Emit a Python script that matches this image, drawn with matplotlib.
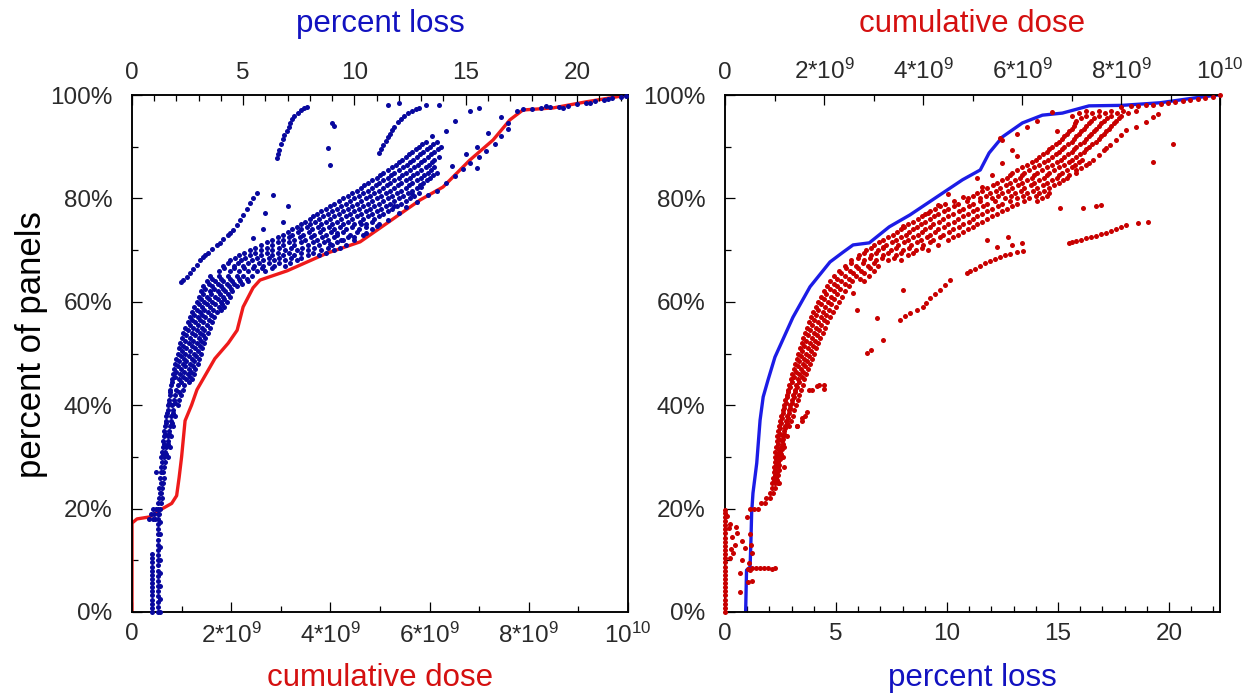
import matplotlib.pyplot as plt
import matplotlib as mpl
from matplotlib.ticker import MultipleLocator

mpl.rcParams['font.family'] = 'Liberation Sans'
mpl.rcParams['mathtext.fontset'] = 'custom'
mpl.rcParams['mathtext.rm'] = 'Liberation Sans'
mpl.rcParams['mathtext.default'] = 'regular'

# ---------------- data ----------------
# cumulative dose in units of 1e9, percent of panels
dose_cdf_dose = [0, 0, 0.1, 0.36, 0.56, 0.8, 0.9, 0.95, 1.0, 1.07, 1.2, 1.31, 1.43,
                 1.67, 1.94, 2.12, 2.24, 2.44, 2.58, 3.13, 3.93, 4.6, 5.14, 5.81,
                 6.27, 6.81, 7.28, 7.62, 7.88, 8.49, 9.17, 10.0]
dose_cdf_pct = [0, 17.2, 18.0, 18.4, 19.7, 21, 22.5, 26, 30, 37, 40, 43, 45,
                49, 52, 54.5, 59, 62.7, 64.2, 66, 69.4, 71.6, 75.2, 79.7,
                82.2, 87.4, 91.3, 95.2, 97.1, 97.5, 98.7, 100]

# percent loss, percent of panels
loss_cdf_loss = [0.93, 0.97, 1.13, 1.17, 1.2, 1.26, 1.43, 1.58, 1.72, 1.94, 2.25, 3.06,
                 3.83, 4.73, 5.32, 5.77, 6.5, 7.4, 8.33, 9.55, 10.7, 11.5, 11.9, 12.5,
                 13.4, 14.3, 15.2, 16.4, 17.9, 19.6, 21.1, 22.2]
loss_cdf_pct = [0, 8.1, 8.7, 14, 19.1, 23, 28.8, 37.1, 41.6, 44.9, 49.3, 57,
                62.9, 67.7, 69.6, 71, 71.4, 74.5, 76.8, 80.3, 83.6, 85.5, 88.8, 91.9,
                94.6, 96.1, 96.5, 97.9, 98, 98.5, 99.4, 100]

# ---- left panel: percent loss of each panel (x) vs its dose rank (y) ----
loss_columns = [
    (0.9, [0, 0.8, 1.6, 2.4, 3.2, 4.0, 4.8, 5.6, 6.4, 7.2, 8.0, 8.8, 9.6, 10.4, 11.2]),
    (1.15, [0, 1, 2, 3, 4, 5, 6, 7, 8, 9, 10, 11, 12, 13, 14, 15, 16, 17, 18, 19, 20]),
    (1.27, [0, 2.5, 5, 7.5, 10, 12.5, 15, 17.5]),
]
loss_band_rows = [
    (18, [0.75, 0.95, 1.05]), (19, [0.85, 1.0, 1.2]), (20, [0.95, 1.1, 1.25]),
    (21, [1.15, 1.3]), (22, [1.2, 1.35]), (23, [1.25, 1.3]), (24, [1.2, 1.35]),
    (25, [1.3, 1.4]), (26, [1.25, 1.45]), (27, [1.1, 1.3, 1.4]), (28, [1.3, 1.45]),
    (29, [1.35, 1.5]), (30, [1.3, 1.45, 1.6]), (31, [1.35, 1.5]), (32, [1.4, 1.55, 1.7]),
    (33, [1.4, 1.6]), (34, [1.45, 1.6, 1.75]), (35, [1.45, 1.65]),
    (36, [1.5, 1.7, 1.85]), (37, [1.55, 1.75]), (38, [1.55, 1.75, 1.95]),
    (39, [1.6, 1.85]), (40, [1.6, 1.8, 2.05]), (41, [1.65, 1.9, 2.1]),
    (42, [1.7, 1.95, 2.2]), (43, [1.7, 2.0, 2.3]), (44, [1.75, 2.05, 2.35]),
    (45, [1.8, 2.1, 2.45, 2.7]), (46, [1.85, 2.15, 2.5, 2.8]), (47, [1.9, 2.2, 2.55, 2.85]),
    (48, [1.95, 2.3, 2.6, 2.95]), (49, [2.0, 2.35, 2.7, 3.0]), (50, [2.05, 2.4, 2.8, 3.1]),
    (51, [2.1, 2.45, 2.85, 3.15]), (52, [2.15, 2.55, 2.9, 3.25]), (53, [2.25, 2.6, 3.0, 3.3]),
    (54, [2.3, 2.7, 3.05, 3.4]), (55, [2.4, 2.75, 3.15, 3.5]), (56, [2.5, 2.85, 3.2, 3.6]),
    (57, [2.6, 2.95, 3.3, 3.7]), (58, [2.7, 3.05, 3.4, 3.8]),
    (59, [2.8, 3.15, 3.5, 3.9, 4.15]), (60, [2.9, 3.25, 3.6, 4.0, 4.25]),
    (61, [3.0, 3.35, 3.75, 4.1, 4.4]), (62, [3.1, 3.5, 3.85, 4.2, 4.5]),
    (63, [3.2, 3.6, 4.0, 4.35, 4.7]), (64, [3.35, 3.75, 4.1, 4.5, 4.85, 5.2]),
    (65, [3.5, 3.9, 4.3, 4.7, 5.0, 5.4]),
]
loss_band_half_rows = [
    (30.5, [1.38, 1.52]), (32.5, [1.45, 1.62]), (34.5, [1.5, 1.68]), (36.5, [1.52, 1.8]),
    (38.5, [1.58, 1.85]), (40.5, [1.65, 1.95]), (42.5, [1.72, 2.1]),
    (44.5, [1.78, 2.2, 2.55]), (45.5, [1.95, 2.3, 2.6]), (46.5, [2.0, 2.35, 2.65]),
    (47.5, [2.05, 2.4, 2.75]), (48.5, [2.12, 2.45, 2.8]), (49.5, [2.2, 2.55, 2.88]),
    (50.5, [2.25, 2.62, 2.95]), (51.5, [2.3, 2.7, 3.05]), (52.5, [2.38, 2.75, 3.1]),
    (53.5, [2.45, 2.82, 3.2]), (54.5, [2.52, 2.9, 3.25]), (55.5, [2.6, 2.98, 3.35]),
    (56.5, [2.7, 3.05, 3.45]), (57.5, [2.8, 3.15, 3.55]), (58.5, [2.9, 3.25, 3.65, 3.98]),
    (59.5, [3.0, 3.38, 3.75, 4.05]), (60.5, [3.1, 3.45, 3.85, 4.15]),
    (61.5, [3.2, 3.55, 3.95, 4.3]), (62.5, [3.3, 3.7, 4.1, 4.45]),
    (63.5, [3.45, 3.85, 4.25, 4.6, 4.95]), (64.5, [3.6, 4.0, 4.4, 4.8, 5.15]),
]
loss_cloud_rows = [
    (66, [3.9, 4.4, 4.8, 5.2, 5.6, 6.0]),
    (67, [4.1, 4.6, 5.0, 5.5, 5.9, 6.4, 6.9]),
    (68, [4.4, 4.9, 5.4, 5.9, 6.4, 6.9, 7.4]),
    (69, [4.8, 5.3, 5.8, 6.3, 6.8, 7.3, 7.9, 8.4]),
    (70, [5.3, 5.8, 6.3, 6.9, 7.4, 7.9, 8.5, 9.1]),
    (71, [5.8, 6.3, 6.8, 7.3, 7.9, 8.4, 9.0, 9.6]),
    (72, [6.3, 6.8, 7.3, 7.8, 8.3, 8.8, 9.4, 10.0]),
    (73, [6.8, 7.2, 7.7, 8.2, 8.7, 9.2, 9.8, 10.4]),
    (74, [7.2, 7.6, 8.1, 8.6, 9.1, 9.6, 10.2, 10.8]),
    (75, [7.6, 8.0, 8.5, 9.0, 9.5, 10.0, 10.5, 11.1]),
    (76, [8.0, 8.4, 8.9, 9.4, 9.9, 10.4, 10.9]),
    (77, [8.3, 8.8, 9.3, 9.8, 10.3, 10.8, 11.3]),
    (78, [8.7, 9.2, 9.7, 10.2, 10.7, 11.2, 11.7]),
    (79, [9.1, 9.6, 10.1, 10.6, 11.1, 11.6, 12.1]),
    (80, [9.5, 10.0, 10.5, 11.0, 11.5, 12.0, 12.5]),
    (81, [9.9, 10.4, 10.9, 11.4, 11.9, 12.4, 12.9]),
    (82, [10.3, 10.8, 11.3, 11.8, 12.3, 12.8]),
    (83, [10.6, 11.1, 11.6, 12.1, 12.6, 13.1]),
    (84, [11.0, 11.5, 12.0, 12.5, 13.0, 13.4]),
    (85, [11.3, 11.8, 12.3, 12.8, 13.3, 13.7]),
    (86, [11.7, 12.2, 12.7, 13.2, 13.6]),
    (87, [12.0, 12.5, 13.0, 13.5]),
    (88, [12.3, 12.8, 13.3, 13.8]),
    (89, [12.6, 13.1, 13.6]),
    (90, [12.9, 13.4, 13.9]),
    (91, [13.2, 13.7]),
    (92, [13.5]),
]
loss_cloud_half_rows = [
    (66.5, [4.15, 4.6, 5.05, 5.45, 5.85, 6.3]),
    (67.5, [4.3, 4.75, 5.2, 5.7, 6.15, 6.6, 7.1]),
    (68.5, [4.65, 5.1, 5.6, 6.15, 6.6, 7.15, 7.6]),
    (69.5, [5.05, 5.55, 6.05, 6.55, 7.05, 7.6, 8.15, 8.7]),
    (70.5, [5.55, 6.05, 6.6, 7.15, 7.65, 8.2, 8.8, 9.35]),
    (71.5, [6.05, 6.55, 7.05, 7.6, 8.15, 8.65, 9.2]),
    (72.5, [6.55, 7.05, 7.55, 8.05, 8.55, 9.1, 9.7]),
    (73.5, [7.0, 7.45, 7.95, 8.45, 8.95, 9.5, 10.1]),
    (74.5, [7.4, 7.85, 8.35, 8.85, 9.35, 9.9, 10.5]),
    (75.5, [7.8, 8.25, 8.7, 9.2, 9.7, 10.25, 10.8]),
    (76.5, [8.15, 8.6, 9.1, 9.6, 10.1, 10.6, 11.1]),
    (77.5, [8.5, 9.0, 9.5, 10.0, 10.5, 11.0, 11.5]),
    (78.5, [8.9, 9.4, 9.9, 10.4, 10.9, 11.4, 11.9]),
    (79.5, [9.3, 9.8, 10.3, 10.8, 11.3, 11.8, 12.3]),
    (80.5, [9.7, 10.2, 10.7, 11.2, 11.7, 12.2, 12.7]),
    (81.5, [10.1, 10.6, 11.1, 11.6, 12.1, 12.6]),
    (82.5, [10.45, 10.95, 11.45, 11.95, 12.45, 12.95]),
    (83.5, [10.8, 11.3, 11.8, 12.3, 12.8, 13.25]),
    (84.5, [11.15, 11.65, 12.15, 12.65, 13.15, 13.55]),
    (85.5, [11.5, 12.0, 12.5, 13.0, 13.45]),
    (86.5, [11.85, 12.35, 12.85, 13.35]),
    (87.5, [12.15, 12.65, 13.15, 13.6]),
    (88.5, [12.45, 12.95, 13.45]),
    (89.5, [12.75, 13.25, 13.75]),
    (90.5, [13.05, 13.55]),
]
loss_edge = [(8.9, 71.2), (9.5, 72.0), (10.0, 72.6), (10.5, 73.3), (11.0, 74.6), (11.5, 75.8),
             (12.0, 77.2), (12.3, 78.3), (12.8, 79.4), (13.3, 80.6), (13.7, 81.5), (14.1, 83.0),
             (14.5, 84.4), (14.9, 85.6), (15.2, 86.8), (15.6, 88.0), (15.9, 89.2), (16.3, 90.6),
             (16.6, 92.0), (16.9, 93.4), (15.0, 88.6), (13.0, 82.3), (11.8, 78.5), (10.3, 75.0),
             (9.2, 73.3), (12.6, 80.8), (14.4, 86.2), (15.5, 90.0)]
loss_arc = [(2.2, 63.8), (2.3, 64.3), (2.46, 64.8), (2.6, 65.6), (2.75, 66.4), (2.9, 67.2),
            (3.05, 68.0), (3.2, 68.6), (3.3, 69.0), (3.4, 69.4), (3.6, 70.2), (3.8, 70.9),
            (3.95, 71.4), (4.1, 72.1), (4.3, 72.9), (4.4, 73.4), (4.55, 73.9), (4.7, 74.8),
            (4.85, 75.8), (5.0, 76.8), (5.15, 78.0), (5.3, 79.2), (5.45, 80.1), (5.6, 81.0)]
loss_streaks = [(6.5, 87.8), (6.55, 88.6), (6.6, 89.4), (6.7, 90.5), (6.8, 91.5), (6.85, 92.2),
                (6.95, 93.0), (7.05, 93.8), (7.1, 94.5), (7.2, 95.3), (7.3, 95.9), (7.45, 96.6),
                (7.6, 97.1), (7.75, 97.5), (7.85, 97.7),
                (11.1, 88.8), (11.2, 89.6), (11.3, 90.3), (11.4, 91.1), (11.5, 91.8), (11.6, 92.5),
                (11.7, 93.2), (11.8, 93.9), (11.95, 94.7), (12.1, 95.4), (12.25, 96.0),
                (12.4, 96.5), (12.6, 97.0), (12.75, 97.3), (12.9, 97.5)]
loss_outliers = [(8.8, 89.7), (8.9, 86.5), (9.0, 94.6), (9.1, 94.0), (11.5, 98.0), (12.0, 98.5),
                 (13.8, 98.0), (15.2, 97.0), (15.6, 97.5), (16.9, 94.6), (16.0, 92.6), (15.5, 85.9),
                 (6.35, 80.6), (7.0, 78.5), (6.0, 77.2), (6.8, 75.4), (5.45, 72.3), (5.9, 74.0),
                 (13.2, 98.0), (14.5, 95.0), (14.1, 93.0), (16.6, 95.7)]
loss_top = [(17.3, 97.0), (17.6, 97.2), (18.0, 97.3), (18.4, 97.4), (18.8, 97.6), (19.2, 97.7),
            (19.6, 97.9), (20.0, 98.2), (20.4, 98.5), (20.8, 98.8), (21.2, 99.1), (21.6, 99.4),
            (22.0, 99.7), (22.2, 99.9), (18.6, 97.8), (19.4, 97.5), (20.6, 98.4), (21.4, 99.3)]

# ---- right panel: dose of each panel (x, 1e9) vs its loss rank (y) ----
dose_columns = [
    (0.0, [0, 0.8, 1.6, 2.4, 3.2, 4.0, 4.8, 5.6, 6.4, 7.2, 8.0, 8.8, 9.6, 10.4, 11.2, 12.0,
           12.8, 13.6, 14.4, 15.2, 16.0, 16.8, 17.6, 18.4, 19.2, 19.8]),
]
dose_low = [(0.14, 14.5), (0.24, 15.3), (0.17, 11.4), (0.34, 10.0), (0.44, 18.4), (0.5, 15.0),
            (0.54, 11.4), (0.3, 7.5), (0.3, 3.9), (0.46, 5.8), (0.1, 17.0), (0.2, 13.0),
            (0.12, 12.2), (0.08, 16.2), (0.35, 13.8), (0.52, 13.0), (0.48, 9.5), (0.4, 12.4),
            (0.22, 16.5), (0.1, 10.5), (0.55, 5.9), (0.05, 18.5),
            (0.46, 8.4), (0.55, 8.6), (0.62, 8.5), (0.7, 8.6), (0.78, 8.5), (0.86, 8.5),
            (0.94, 8.4), (1.0, 8.5), (0.5, 8.2)]
dose_band_rows = [
    (20, [0.5, 0.58, 0.66]), (21, [0.72, 0.8]), (22, [0.82, 0.9]), (23, [0.9, 0.97]),
    (24, [0.94, 1.0]), (25, [0.95, 1.02, 1.1]), (26, [0.96, 1.04]), (27, [0.98, 1.06]),
    (28, [0.98, 1.07, 1.2]), (29, [1.0, 1.08]), (30, [1.0, 1.1, 1.17]), (31, [1.02, 1.12]),
    (32, [1.03, 1.13, 1.2]), (33, [1.05, 1.15]), (34, [1.06, 1.17, 1.25]), (35, [1.08, 1.19]),
    (36, [1.1, 1.21, 1.3, 1.45]), (37, [1.12, 1.24, 1.34, 1.55]), (38, [1.14, 1.26, 1.37, 1.62]),
    (39, [1.17, 1.29, 1.4]), (40, [1.2, 1.32, 1.43]), (41, [1.22, 1.35, 1.47]),
    (42, [1.25, 1.38, 1.5]), (43, [1.28, 1.41, 1.53, 1.75]), (44, [1.3, 1.44, 1.57, 1.9, 2.0]),
    (45, [1.33, 1.47, 1.6]), (46, [1.36, 1.5, 1.64]), (47, [1.39, 1.53, 1.68]),
    (48, [1.42, 1.57, 1.72]), (49, [1.45, 1.6, 1.76]), (50, [1.48, 1.64, 1.8]),
    (51, [1.51, 1.68, 1.84]), (52, [1.55, 1.72, 1.88]), (53, [1.58, 1.76, 1.92]),
    (54, [1.62, 1.8, 1.97]), (55, [1.66, 1.84, 2.02]), (56, [1.7, 1.88, 2.07]),
    (57, [1.74, 1.93, 2.12]), (58, [1.78, 1.98, 2.18]), (59, [1.83, 2.03, 2.24]),
    (60, [1.88, 2.08, 2.3]), (61, [1.94, 2.14, 2.36]), (62, [2.0, 2.2, 2.42]),
    (63, [2.06, 2.27, 2.5]), (64, [2.13, 2.34, 2.57, 2.8]), (65, [2.2, 2.42, 2.65, 2.9]),
    (66, [2.3, 2.52, 2.75, 3.0]), (67, [2.42, 2.65, 2.88, 3.1]),
]
dose_band_half_rows = [
    (25.5, [0.99, 1.06]), (26.5, [1.0, 1.08]), (27.5, [1.02, 1.09]), (28.5, [1.03, 1.1]),
    (29.5, [1.04, 1.12]), (30.5, [1.05, 1.14]), (31.5, [1.07, 1.15]), (32.5, [1.08, 1.17]),
    (33.5, [1.09, 1.18]), (34.5, [1.11, 1.2]), (35.5, [1.12, 1.22]), (36.5, [1.14, 1.25]),
    (37.5, [1.16, 1.27]), (38.5, [1.18, 1.3]), (39.5, [1.2, 1.32]), (40.5, [1.23, 1.36]),
    (41.5, [1.25, 1.39]), (42.5, [1.28, 1.42]), (43.5, [1.31, 1.45]),
    (44.5, [1.36, 1.5]), (45.5, [1.4, 1.55]), (46.5, [1.44, 1.58]), (47.5, [1.47, 1.62]),
    (48.5, [1.5, 1.66]), (49.5, [1.53, 1.7]), (50.5, [1.56, 1.73]), (51.5, [1.6, 1.77]),
    (52.5, [1.63, 1.81]), (53.5, [1.67, 1.85]), (54.5, [1.71, 1.9]), (55.5, [1.75, 1.94]),
    (56.5, [1.8, 1.99]), (57.5, [1.84, 2.04]), (58.5, [1.88, 2.1]), (59.5, [1.94, 2.15]),
    (60.5, [2.0, 2.2]), (61.5, [2.05, 2.26]), (62.5, [2.12, 2.33]), (63.5, [2.2, 2.42]),
    (64.5, [2.27, 2.5, 2.72]), (65.5, [2.35, 2.58, 2.8]), (66.5, [2.45, 2.68, 2.92]),
    (67.5, [2.55, 2.78, 3.02]),
]
dose_cloud_rows = [
    (68, [2.55, 2.8, 3.05, 3.3, 3.55]),
    (69, [2.7, 2.95, 3.2, 3.45, 3.7]),
    (70, [2.85, 3.1, 3.35, 3.6, 3.85, 4.1]),
    (71, [3.0, 3.25, 3.5, 3.75, 4.0, 4.3]),
    (72, [3.2, 3.45, 3.7, 3.95, 4.2, 4.5]),
    (73, [3.4, 3.65, 3.9, 4.15, 4.4, 4.7]),
    (74, [3.55, 3.8, 4.05, 4.3, 4.6, 4.9]),
    (75, [3.7, 3.95, 4.2, 4.5, 4.8, 5.1]),
    (76, [3.9, 4.15, 4.4, 4.7, 5.0, 5.3]),
    (77, [4.05, 4.3, 4.6, 4.9, 5.2, 5.5]),
    (78, [4.25, 4.5, 4.8, 5.1, 5.4, 5.7]),
    (79, [4.45, 4.7, 5.0, 5.3, 5.6, 5.9]),
    (80, [4.9, 5.15, 5.4, 5.65, 5.9, 6.15, 6.4]),
    (81, [5.1, 5.35, 5.6, 5.85, 6.1, 6.35, 6.55]),
    (82, [5.3, 5.55, 5.8, 6.05, 6.3, 6.55]),
    (83, [5.5, 5.75, 6.0, 6.25, 6.5, 6.75]),
    (84, [5.7, 5.95, 6.2, 6.45, 6.7, 6.9]),
    (85, [5.8, 6.05, 6.3, 6.55, 6.8]),
    (86, [6.0, 6.25, 6.5, 6.75, 7.0]),
    (87, [6.2, 6.45, 6.7, 6.95, 7.15]),
    (88, [6.35, 6.6, 6.85, 7.1]),
    (89, [6.5, 6.75, 7.0, 7.25]),
    (90, [6.6, 6.85, 7.1, 7.35]),
    (91, [6.75, 7.0, 7.25, 7.5]),
    (92, [6.85, 7.1, 7.35, 7.6]),
    (93, [6.95, 7.2, 7.45, 7.7]),
    (94, [7.05, 7.3, 7.55, 7.8]),
    (95, [7.1, 7.4, 7.65, 7.9]),
    (96, [7.0, 7.3, 7.55, 7.8, 8.0]),
    (97, [7.3, 7.55, 7.8, 8.05, 8.3]),
]
dose_cloud_half_rows = [
    (68.5, [2.68, 2.92, 3.18, 3.42]),
    (69.5, [2.8, 3.05, 3.3, 3.55, 3.8]),
    (70.5, [2.95, 3.2, 3.45, 3.72, 3.98]),
    (71.5, [3.12, 3.38, 3.62, 3.88, 4.15]),
    (72.5, [3.3, 3.55, 3.8, 4.08, 4.35, 4.6]),
    (73.5, [3.48, 3.72, 3.98, 4.25, 4.52, 4.8]),
    (74.5, [3.62, 3.88, 4.15, 4.42, 4.72, 5.0]),
    (75.5, [3.8, 4.05, 4.32, 4.62, 4.92, 5.2]),
    (76.5, [3.98, 4.22, 4.5, 4.8, 5.1, 5.4]),
    (77.5, [4.15, 4.42, 4.72, 5.0, 5.3, 5.6]),
    (78.5, [4.35, 4.62, 4.92, 5.22, 5.52, 5.8]),
    (79.5, [4.62, 4.88, 5.15, 5.45, 5.75, 6.05, 6.3]),
    (80.5, [5.0, 5.28, 5.52, 5.78, 6.02, 6.28, 6.5]),
    (81.5, [5.2, 5.48, 5.72, 5.98, 6.22, 6.45]),
    (82.5, [5.42, 5.68, 5.92, 6.18, 6.42, 6.65]),
    (83.5, [5.6, 5.85, 6.1, 6.35, 6.6, 6.82]),
    (84.5, [5.75, 6.0, 6.25, 6.5, 6.75, 6.95]),
    (85.5, [5.9, 6.15, 6.4, 6.65, 6.9, 7.1]),
    (86.5, [6.1, 6.35, 6.6, 6.85, 7.08]),
    (87.5, [6.28, 6.52, 6.78, 7.02, 7.22]),
    (88.5, [6.42, 6.68, 6.92, 7.18]),
    (89.5, [6.55, 6.8, 7.05, 7.3]),
    (90.5, [6.68, 6.92, 7.18, 7.42]),
    (91.5, [6.8, 7.05, 7.3, 7.55]),
    (92.5, [6.9, 7.15, 7.4, 7.65]),
    (93.5, [7.0, 7.25, 7.5, 7.75]),
    (94.5, [7.08, 7.35, 7.6, 7.85]),
    (95.5, [7.2, 7.45, 7.72, 7.95]),
    (96.5, [7.15, 7.42, 7.68, 7.92, 8.15]),
]
dose_sparse = [(4.8, 80.3), (5.1, 84.0), (5.2, 82.2), (5.4, 84.5), (5.6, 91.2), (5.55, 91.7),
               (5.8, 89.4), (6.1, 93.8), (6.3, 95.0), (6.7, 93.0), (6.6, 96.7), (4.3, 78.8),
               (4.5, 80.8), (4.1, 77.2), (5.6, 86.8), (5.9, 88.2), (5.9, 92.5), (3.6, 74.6),
               (3.2, 70.6), (1.45, 36.0), (1.55, 37.5), (1.65, 38.7), (1.7, 43.0), (1.85, 43.8),
               (2.0, 43.2), (1.07, 25.0),
               (3.07, 56.8), (3.19, 52.6), (2.87, 50.1), (2.94, 50.7), (3.6, 62.3), (2.67, 58.4),
               (2.59, 61.7)]
dose_streaks = [
    # lower-right steep streak
    (7.1, 85.0), (7.2, 85.8), (7.3, 86.5), (7.35, 86.9), (7.44, 87.4), (7.55, 88.3),
    (7.65, 89.3), (7.7, 89.8), (7.78, 90.3), (7.9, 91.3), (8.0, 92.2), (8.1, 93.2),
    (8.3, 93.8), (8.5, 94.8), (8.65, 95.8), (8.75, 96.3), (9.05, 90.5), (8.65, 87.0),
    # streak near 72-75 %
    (6.94, 71.4), (7.0, 71.6), (7.1, 71.8), (7.2, 72.0), (7.3, 72.3), (7.4, 72.5),
    (7.5, 72.8), (7.6, 73.1), (7.7, 73.4), (7.8, 73.7), (7.9, 74.1), (8.0, 74.5),
    (8.1, 74.9), (8.35, 75.3), (8.55, 75.5),
    (6.77, 78.1), (7.23, 78.1), (7.5, 78.6), (7.6, 78.8),
    # streak near 66-70 %
    (4.89, 65.6), (4.95, 65.9), (5.05, 66.4), (5.15, 67.0), (5.25, 67.5), (5.35, 67.9),
    (5.45, 68.3), (5.55, 68.7), (5.65, 69.0), (5.75, 69.3), (5.9, 69.6), (5.3, 72.0),
    (5.5, 70.6), (5.72, 72.5), (5.8, 71.0), (6.0, 71.4), (6.02, 69.8),
    # streak near 56-64 %
    (3.54, 56.5), (3.64, 57.2), (3.74, 57.8), (3.87, 58.4), (4.0, 59.0), (4.07, 59.8),
    (4.14, 60.7), (4.24, 61.5), (4.34, 62.3), (4.45, 63.2), (4.55, 64.2),
]
dose_top = [(8.0, 97.6), (8.2, 97.8), (8.35, 97.9), (8.5, 98.0), (8.65, 98.1), (8.8, 98.2),
            (8.95, 98.4), (9.1, 98.6), (9.25, 98.8), (9.4, 99.0), (9.55, 99.2), (9.7, 99.5),
            (9.85, 99.7), (10.0, 100.0)]

dose_ticks = [0, 2, 4, 6, 8, 10]
dose_labels = ['0', '2*10$^{9}$', '4*10$^{9}$', '6*10$^{9}$', '8*10$^{9}$', '10$^{10}$']
loss_ticks = [0, 5, 10, 15, 20]
pct_ticks = [0, 20, 40, 60, 80, 100]

LOSS_MAX = 22.3
RED_LINE = '#ee1a1a'
BLUE_LINE = '#1c1ce6'
BLUE_DOT = '#08089e'
RED_DOT = '#c80000'
TICK_COLOR = '#2a2a2a'


def from_rows(*groups):
    xs, ys = [], []
    for rows in groups:
        for y, vals in rows:
            for v in vals:
                xs.append(v)
                ys.append(y)
    return xs, ys


def from_columns(cols):
    xs, ys = [], []
    for x, vals in cols:
        for v in vals:
            xs.append(x)
            ys.append(v)
    return xs, ys


def from_pairs(*groups):
    xs, ys = [], []
    for g in groups:
        for x, y in g:
            xs.append(x)
            ys.append(y)
    return xs, ys


def collect(parts):
    xs, ys = [], []
    for px, py in parts:
        xs += px
        ys += py
    return xs, ys


loss_x, loss_y = collect([
    from_columns(loss_columns),
    from_rows(loss_band_rows, loss_band_half_rows, loss_cloud_rows, loss_cloud_half_rows),
    from_pairs(loss_edge, loss_arc, loss_streaks, loss_outliers, loss_top)])
dose_x, dose_y = collect([
    from_columns(dose_columns),
    from_rows(dose_band_rows, dose_band_half_rows, dose_cloud_rows, dose_cloud_half_rows),
    from_pairs(dose_low, dose_sparse, dose_streaks, dose_top)])


def style(ax):
    for sp in ax.spines.values():
        sp.set_linewidth(1.1)
    ax.tick_params(which='both', direction='in', colors='black', labelcolor=TICK_COLOR,
                   labelsize=17.5, width=0.9)
    ax.tick_params(which='major', length=7)
    ax.tick_params(which='minor', length=4)


def set_pct_axis(ax):
    ax.set_ylim(0, 100)
    ax.set_yticks(pct_ticks)
    ax.set_yticklabels([f'{p}%' for p in pct_ticks])
    ax.yaxis.set_minor_locator(MultipleLocator(10))
    ax.tick_params(axis='y', which='both', left=True, right=False, pad=14)


def set_dose_axis(ax, top):
    ax.set_xlim(0, 10)
    ax.set_xticks(dose_ticks)
    ax.set_xticklabels(dose_labels)
    ax.xaxis.set_minor_locator(MultipleLocator(1))
    ax.tick_params(axis='x', which='both', top=top, bottom=not top, labeltop=top,
                   labelbottom=not top, pad=8)


def set_loss_axis(ax, top):
    ax.set_xlim(0, LOSS_MAX)
    ax.set_xticks(loss_ticks)
    ax.xaxis.set_minor_locator(MultipleLocator(1))
    ax.tick_params(axis='x', which='both', top=top, bottom=not top, labeltop=top,
                   labelbottom=not top, pad=8)


fig = plt.figure(figsize=(12.51, 7), dpi=100)
H = 700.0
W = 1251.0

# left panel
ax1 = fig.add_axes([132 / W, 88 / H, 496 / W, 517 / H])
ax1.plot(dose_cdf_dose, dose_cdf_pct, color=RED_LINE, lw=2.4, solid_capstyle='butt')
style(ax1)
set_pct_axis(ax1)
set_dose_axis(ax1, top=False)
ax1t = ax1.twiny()
style(ax1t)
set_loss_axis(ax1t, top=True)
ax1t.set_ylim(0, 100)
ax1t.scatter(loss_x, loss_y, s=13, color=BLUE_DOT, linewidths=0, clip_on=False, zorder=3)

# right panel
ax2 = fig.add_axes([725 / W, 88 / H, 495 / W, 517 / H])
ax2.plot(loss_cdf_loss, loss_cdf_pct, color=BLUE_LINE, lw=2.4)
style(ax2)
set_pct_axis(ax2)
set_loss_axis(ax2, top=False)
ax2t = ax2.twiny()
style(ax2t)
set_dose_axis(ax2t, top=True)
ax2t.set_ylim(0, 100)
ax2t.scatter(dose_x, dose_y, s=13, color=RED_DOT, linewidths=0, clip_on=False, zorder=3)

# axis titles
fig.text(380 / W, 1 - 24 / H, 'percent loss', color='#1212c0', fontsize=22.5,
         ha='center', va='center')
fig.text(380 / W, 1 - 678 / H, 'cumulative dose', color='#d41010', fontsize=22.5,
         ha='center', va='center')
fig.text(972 / W, 1 - 24 / H, 'cumulative dose', color='#d41010', fontsize=22.5,
         ha='center', va='center')
fig.text(972 / W, 1 - 678 / H, 'percent loss', color='#1212c0', fontsize=22.5,
         ha='center', va='center')
fig.text(32 / W, 1 - 345 / H, 'percent of panels', color='black', fontsize=25,
         rotation=90, ha='center', va='center')

fig.savefig('out.png', dpi=100)
